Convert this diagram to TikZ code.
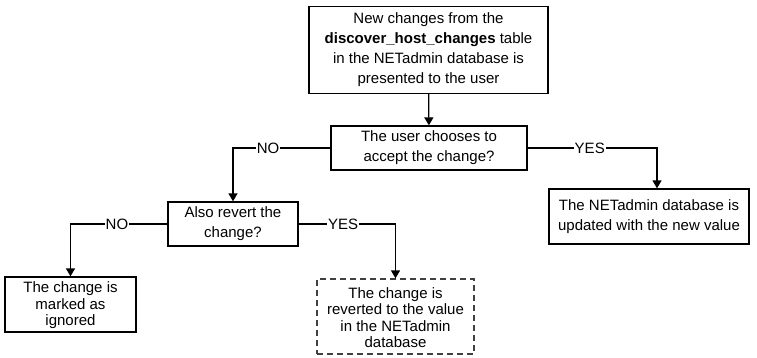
\documentclass[tikz,border=0pt]{standalone}
\usepackage{fontspec}
\setmainfont{Liberation Sans}
\usepackage{tikz}
\usetikzlibrary{positioning,calc,arrows.meta}

\tikzset{
    box/.style={draw, line width=1.3pt, align=center, inner sep=0pt,
        font=\fontsize{15}{20}\selectfont},
    dbox/.style={box, dashed, dash pattern=on 6pt off 4pt, draw=black!75},
    flow/.style={line width=1.3pt, -{Triangle[length=8pt,width=9pt]}},
    lbl/.style={fill=white, inner sep=1pt, font=\fontsize{15}{17}\selectfont}
}

\begin{document}
\begin{tikzpicture}[x=1pt,y=-1pt]
    \useasboundingbox (0,0) rectangle (757,357);

    % Boxes
    \node[box, minimum width=239pt, minimum height=87pt] (src) at (428.5,50)
        {New changes from the\\ \textbf{discover\_host\_changes} table\\ in the NETadmin database is\\ presented to the user};
    \node[box, minimum width=196pt, minimum height=44pt] (accept) at (429,148)
        {The user chooses to\\ accept the change?};
    \node[box, minimum width=130pt, minimum height=44pt] (revert) at (233,224)
        {Also revert the\\ change?};
    \node[box, minimum width=200pt, minimum height=55pt] (update) at (649,216.5)
        {The NETadmin database is\\ updated with the new value};
    \node[box, minimum width=131pt, minimum height=55pt, font=\fontsize{15}{16.5}\selectfont] (ignore) at (70.5,304.5)
        {\rule{0pt}{13pt}The change is\\ marked as\\ ignored};
    \node[dbox, minimum width=157pt, minimum height=75pt, font=\fontsize{15}{16.5}\selectfont] (back) at (395.5,316.5)
        {\rule{0pt}{13pt}The change is\\ reverted to the value\\ in the NETadmin\\ database};

    % Connectors
    \draw[flow] (src) -- (accept);
    \draw[flow] (accept.west) -| node[lbl, pos=0.32] {NO} (revert.north);
    \draw[flow] (accept.east) -| node[lbl, pos=0.24] {YES} ([xshift=8pt]update.north);
    \draw[flow] (revert.west) -| node[lbl, pos=0.26] {NO} (ignore.north);
    \draw[flow] (revert.east) -| node[lbl, pos=0.23] {YES} (back.north);
\end{tikzpicture}
\end{document}
